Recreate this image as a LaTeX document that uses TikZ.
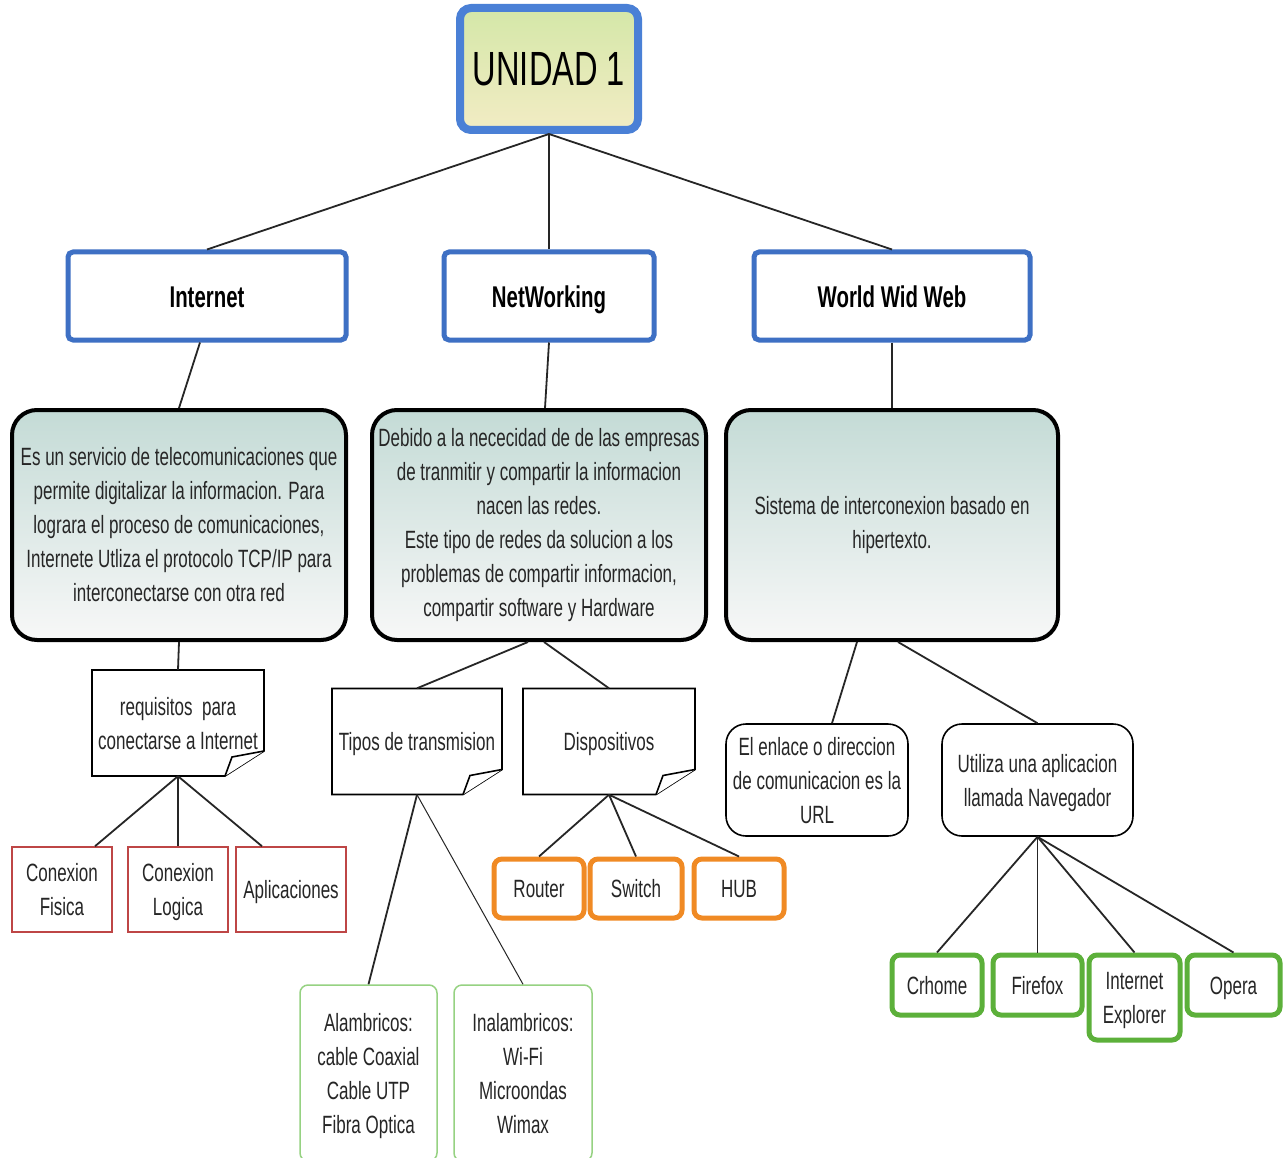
\documentclass[tikz,border=0pt]{standalone}
\usepackage{fontspec}
\setmainfont{Liberation Sans}[FakeStretch=0.68]
\newcommand\tpst{\rule{0pt}{24pt}}
\newcommand\btst{\rule[-6pt]{0pt}{6pt}}
\begin{document}
\begin{tikzpicture}[x=1pt,y=-1pt,
  txt/.style={font=\fontsize{25}{34}\selectfont, text=black!85, align=center, inner sep=0pt},
  one/.style={text height=21pt, text depth=3pt},
  topbox/.style={draw={rgb,255:red,74;green,128;blue,214}, line width=8pt, rounded corners=11pt,
     top color={rgb,255:red,212;green,231;blue,168}, bottom color={rgb,255:red,242;green,236;blue,196},
     minimum width=178pt, minimum height=122pt, inner sep=0pt},
  catbox/.style={draw={rgb,255:red,62;green,112;blue,196}, line width=5pt, rounded corners=5pt, fill=white,
     minimum height=88pt, inner sep=0pt, font=\fontsize{30}{34}\selectfont\bfseries, text=black,
     text height=26pt, text depth=4pt},
  descbox/.style={txt, draw=black, line width=4pt, rounded corners=25pt,
     top color={rgb,255:red,196;green,219;blue,214}, bottom color=white!97!black,
     minimum width=334pt, minimum height=230pt},
  notebox/.style={txt, minimum height=106pt},
  notepath/.style={draw=black, line width=1.6pt, fill=white},
  redbox/.style={txt, draw={rgb,255:red,190;green,70;blue,70}, line width=1.5pt, fill=white, minimum height=85pt},
  orbox/.style={txt, one, draw={rgb,255:red,240;green,138;blue,36}, line width=5pt, rounded corners=8pt, fill=white, minimum height=59pt},
  lgbox/.style={txt, draw={rgb,255:red,150;green,210;blue,130}, line width=1.5pt, rounded corners=8pt, fill=white, minimum height=176pt},
  roundbox/.style={txt, draw=black, line width=1.6pt, rounded corners=20pt, fill=white, minimum height=112pt},
  grbox/.style={txt, draw={rgb,255:red,92;green,176;blue,58}, line width=5pt, rounded corners=8pt, fill=white, minimum height=60pt},
  conn/.style={draw=black!85, line width=1.8pt}
]
\clip (0,0) rectangle (1284,1158);
\fill[white] (0,0) rectangle (1284,1158);

% nodes
\node[topbox, font=\fontsize{48}{50}\selectfont, text=black] (u) at (549,69) {UNIDAD 1};
\node[catbox, minimum width=278pt] (inet) at (207,296) {Internet};
\node[catbox, minimum width=210pt] (netw) at (549,296) {NetWorking};
\node[catbox, minimum width=276pt] (www) at (892,296) {World Wid Web};

\node[descbox] (d1) at (179,525) {Es un servicio de telecomunicaciones que\\permite digitalizar la informacion. Para\\lograra el proceso de comunicaciones,\\Internete Utliza el protocolo TCP/IP para\\interconectarse con otra red};
\node[descbox] (d2) at (539,525) {Debido a la nececidad de de las empresas\\de tranmitir y compartir la informacion\\nacen las redes.\\Este tipo de redes da solucion a los\\problemas de compartir informacion,\\compartir software y Hardware};
\node[descbox, minimum width=332pt] (d3) at (892,525) {Sistema de interconexion basado en\\hipertexto.};

% note shapes
\foreach \n/\cx/\cy/\w in {req/178/723/172, tip/417/741.5/170, disp/609/741.5/172}{
  \path[notepath] (\cx-\w/2,\cy-53) -- (\cx+\w/2,\cy-53) -- (\cx+\w/2,\cy+28) -- (\cx+\w/2-39,\cy+53) -- (\cx-\w/2,\cy+53) -- cycle;
  \path[notepath] (\cx+\w/2-39,\cy+53) -- (\cx+\w/2-32,\cy+34) -- (\cx+\w/2,\cy+28);
}
\node[notebox, minimum width=172pt] (req) at (178,723) {\tpst requisitos\ \ para\\conectarse a Internet\btst};
\node[notebox, one, minimum width=170pt] (tip) at (417,741.5) {Tipos de transmision};
\node[notebox, one, minimum width=172pt] (disp) at (609,741.5) {Dispositivos};

\node[redbox, minimum width=100pt] (cf) at (62,889.5) {\tpst Conexion\\Fisica\btst};
\node[redbox, minimum width=100pt] (cl) at (178,889.5) {\tpst Conexion\\Logica\btst};
\node[redbox, one, minimum width=110pt] (ap) at (291,889.5) {Aplicaciones};

\node[orbox, minimum width=90pt] (rt) at (539,888.5) {Router};
\node[orbox, minimum width=92pt] (sw) at (636,888.5) {Switch};
\node[orbox, minimum width=90pt] (hub) at (739,888.5) {HUB};

\node[lgbox, minimum width=137pt] (alam) at (368.5,1073) {\tpst Alambricos:\\cable Coaxial\\Cable UTP\\Fibra Optica\btst};
\node[lgbox, minimum width=138pt] (ina) at (523,1073) {\tpst Inalambricos:\\Wi-Fi\\Microondas\\Wimax\btst};

\node[roundbox, minimum width=182pt] (enl) at (817,780) {\tpst El enlace o direccion\\de comunicacion es la\\URL\btst};
\node[roundbox, minimum width=191pt] (uti) at (1037.5,780) {\tpst Utiliza una aplicacion\\llamada Navegador\btst};

\node[grbox, one, minimum width=90pt] (chr) at (937,985) {Crhome};
\node[grbox, one, minimum width=89pt] (fir) at (1037.5,985) {Firefox};
\node[grbox, minimum width=91pt, minimum height=85pt] (ie) at (1134.5,997.5) {\tpst Internet\\Explorer\btst};
\node[grbox, one, minimum width=93pt] (op) at (1233.5,985) {Opera};

% connectors
\path[conn] (u.south) -- (inet.north);
\path[conn] (u.south) -- (netw.north);
\path[conn] (u.south) -- (www.north);
\path[conn] ([xshift=-7pt]inet.south) -- (d1.north);
\path[conn] (netw.south) -- ([xshift=6pt]d2.north);
\path[conn] (www.south) -- (d3.north);
\path[conn] (d1.south) -- (req.north);
\path[conn] ([xshift=-11pt]d2.south) -- (tip.north);
\path[conn] ([xshift=5pt]d2.south) -- (disp.north);
\path[conn] (req.south) -- ([xshift=33pt]cf.north);
\path[conn] (req.south) -- (cl.north);
\path[conn] (req.south) -- ([xshift=-29pt]ap.north);
\path[conn] (tip.south) -- (alam.north);
\path[conn, line width=1pt] (tip.south) -- (ina.north);
\path[conn] (disp.south) -- (rt.north);
\path[conn] (disp.south) -- (sw.north);
\path[conn] (disp.south) -- (hub.north);
\path[conn] ([xshift=-35pt]d3.south) -- ([xshift=15pt]enl.north);
\path[conn] ([xshift=6pt]d3.south) -- (uti.north);
\path[conn] (uti.south) -- (chr.north);
\path[conn] (uti.south) -- (fir.north);
\path[conn] (uti.south) -- (ie.north);
\path[conn] (uti.south) -- (op.north);
\end{tikzpicture}
\end{document}
